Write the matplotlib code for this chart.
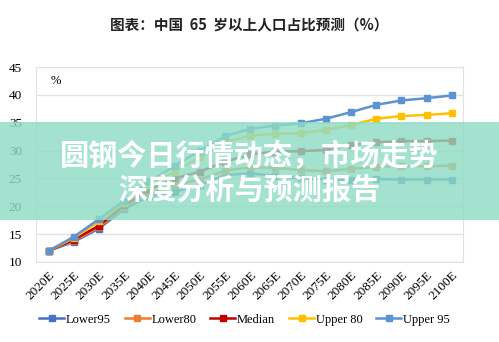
import numpy as np
import matplotlib.pyplot as plt

# values (share of population aged 65+, %)
years = ['2020E', '2025E', '2030E', '2035E', '2040E', '2045E', '2050E', '2055E', '2060E',
         '2065E', '2070E', '2075E', '2080E', '2085E', '2090E', '2095E', '2100E']
lower95 = [12.0, 13.6, 16.0, 19.5, 21.8, 22.6, 23.8, 25.6, 25.9, 25.5, 25.0, 24.8, 24.7, 24.9, 24.8, 24.8, 24.8]
lower80 = [12.0, 13.8, 16.2, 19.8, 22.3, 23.8, 24.8, 26.4, 27.0, 26.9, 26.5, 26.3, 26.7, 27.1, 27.2, 27.2, 27.3]
median = [12.0, 14.0, 16.5, 20.2, 23.0, 25.0, 26.2, 28.0, 29.3, 29.8, 29.9, 30.1, 31.0, 31.5, 31.7, 31.7, 31.8]
upper80 = [12.0, 14.3, 17.3, 20.6, 23.8, 26.2, 28.8, 31.5, 32.7, 33.0, 33.1, 33.7, 34.6, 35.7, 36.2, 36.4, 36.7]
upper95 = [12.0, 14.5, 17.7, 21.0, 24.5, 27.2, 30.0, 32.6, 33.9, 34.5, 34.9, 35.7, 36.9, 38.2, 39.0, 39.4, 39.9]

series = [('Lower95', lower95, '#4472C4'),
          ('Lower80', lower80, '#ED7D31'),
          ('Median', median, '#C00000'),
          ('Upper 80', upper80, '#FFC000'),
          ('Upper 95', upper95, '#5B93D3')]

serif = ['Liberation Serif', 'DejaVu Serif']
cjk = ['Noto Sans CJK SC', 'DejaVu Sans']

fig = plt.figure(figsize=(4.99, 3.42), dpi=100)
ax = fig.add_axes([0.072, 0.234, 0.856, 0.570])

x = np.arange(len(years))
for name, vals, col in series:
    ax.plot(x, vals, color=col, lw=1.8, marker='s', ms=5, label=name)

ax.set_ylim(10, 45)
ax.set_yticks(range(10, 46, 5))
ax.set_xlim(-0.5, len(years) - 0.55)
ax.set_xticks(x)
ax.set_xticklabels(years, rotation=45, ha='right', rotation_mode='anchor', family=serif, fontsize=9.5)
for t in ax.get_yticklabels():
    t.set_family(serif)
    t.set_fontsize(9.5)
ax.tick_params(length=0, pad=10)
ax.tick_params(axis='x', pad=5)
ax.grid(axis='y', color='#e2e2e2', lw=1)
ax.set_axisbelow(True)
for s in ax.spines.values():
    s.set_color('#e2e2e2')

ax.text(0.035, 0.93, '%', transform=ax.transAxes, family=serif, fontsize=9, va='center')

fig.text(0.5, 0.925, '图表：中国  65  岁以上人口占比预测（%）', ha='center', va='center',
         family=cjk, fontsize=10.5, fontweight='bold', color='#222222')

fig.legend(loc='center', bbox_to_anchor=(0.49, 0.065), ncol=5, frameon=False,
           prop={'family': serif, 'size': 9}, handlelength=2.0, handletextpad=0.15,
           columnspacing=1.1)

# teal banner over the chart
fig.patches.append(plt.Rectangle((0, 1 - 220 / 342), 1, 98 / 342, transform=fig.transFigure,
                                 facecolor='#8fdcc4', alpha=0.82, zorder=5))
fig.text(0.5, 1 - 156 / 342, '圆钢今日行情动态，市场走势', ha='center', va='center',
         family=cjk, fontsize=21, fontweight='bold', color='white', zorder=6)
fig.text(0.5, 1 - 190 / 342, '深度分析与预测报告', ha='center', va='center',
         family=cjk, fontsize=21, fontweight='bold', color='white', zorder=6)

fig.savefig('out.png', dpi=100)
